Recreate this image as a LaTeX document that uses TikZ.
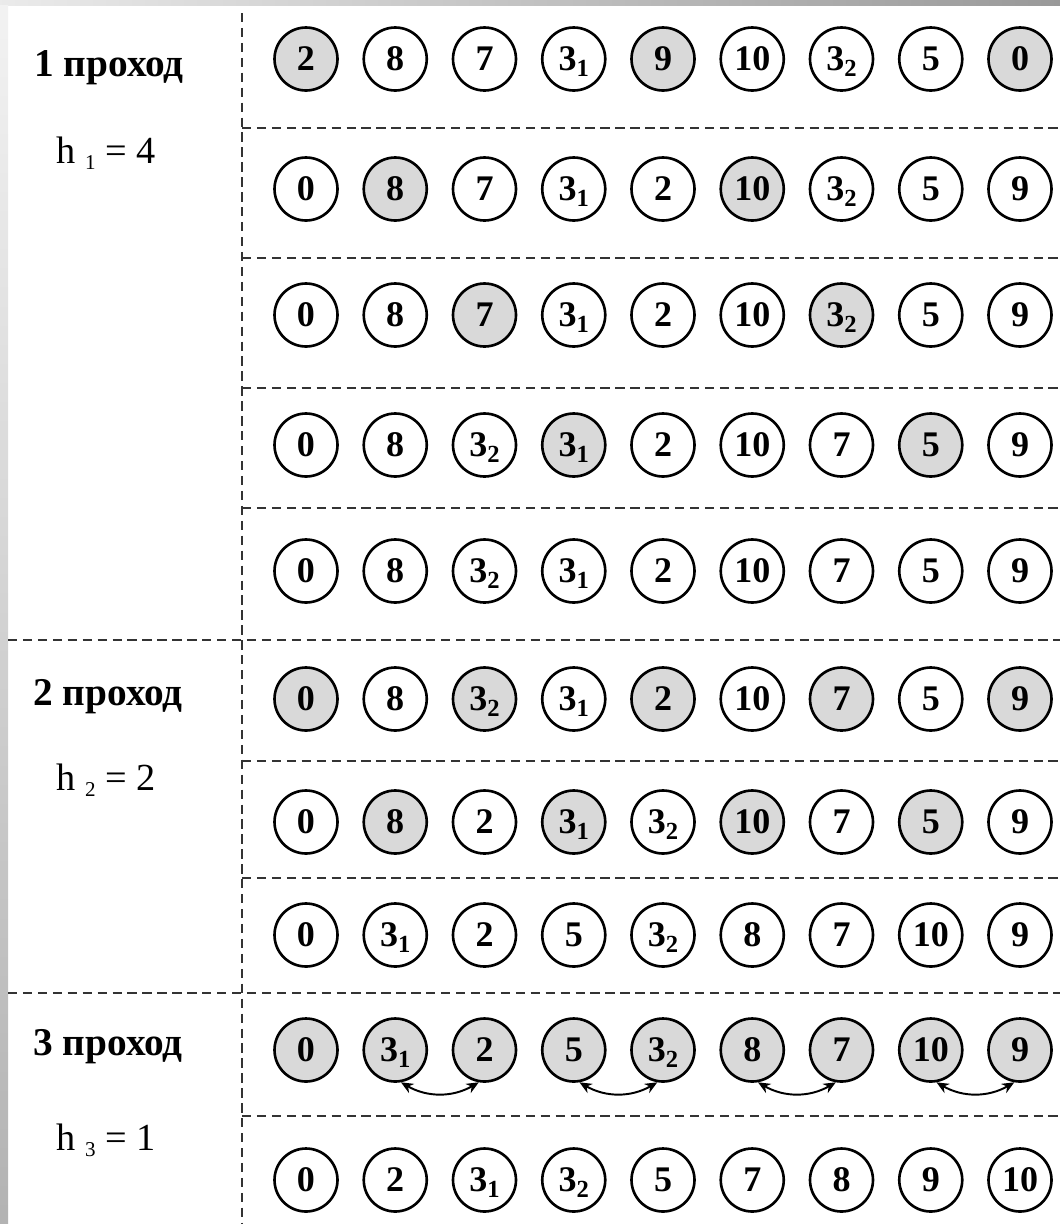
\documentclass[tikz,border=0pt]{standalone}
\usepackage{fontspec}
\setmainfont{Liberation Serif}
\usepackage{tikz}
\usetikzlibrary{arrows.meta}
\colorlet{sel}{black!15}
\newcommand{\lo}[2][14]{\raisebox{-3.5pt}[0pt][0pt]{\fontsize{#1}{#1}\selectfont #2}}

\begin{document}
\begin{tikzpicture}[x=0.02cm, y=-0.02cm,
    cell/.style={draw, circle, line width=1.5pt, minimum size=1.26cm, inner sep=0pt, fill=white, font=\fontsize{20.5}{22}\selectfont\bfseries},
    pass/.style={font=\fontsize{22.4}{24}\selectfont\bfseries},
    hval/.style={font=\fontsize{21.8}{24}\selectfont},
    sep/.style={line width=1.5pt, black!80, dash pattern=on 5.3pt off 3.2pt},
    xchg/.style={{Stealth[length=7pt,width=6pt]}-{Stealth[length=7pt,width=6pt]}, line width=1.1pt},
]
\useasboundingbox (0,0) rectangle (1060,1224);
\shade[left color=black!8, right color=black!40] (0,0) rectangle (1060,5);
\shade[top color=black!5, bottom color=black!30] (0,5) rectangle (8,1224);

\draw[sep] (242,13) -- (242,1224);
\foreach \yy in {128,258,388,508,761,878,1116}
  \draw[sep] (242,\yy) -- (1060,\yy);
\foreach \yy in {640,993}
  \draw[sep] (8,\yy) -- (1060,\yy);

\node[pass] (pass1) at (109,68) {1 проход};
\node[hval] (h1) at (106,150) {h \lo[12]{1} = 4};
\node[pass] (pass2) at (108,697) {2 проход};
\node[hval] (h2) at (106,777) {h \lo[12]{2} = 2};
\node[pass] (pass3) at (108,1047) {3 проход};
\node[hval] (h3) at (106,1137) {h \lo[12]{3} = 1};

\foreach \v/\f [count=\c] in {2/sel, 8/white, 7/white, 3\lo{1}/white, 9/sel, 10/white, 3\lo{2}/white, 5/white, 0/sel}
  \node[cell, fill=\f] (r1-\c) at ({306+89.25*(\c-1)}, 59) {\v};
\foreach \v/\f [count=\c] in {0/white, 8/sel, 7/white, 3\lo{1}/white, 2/white, 10/sel, 3\lo{2}/white, 5/white, 9/white}
  \node[cell, fill=\f] (r2-\c) at ({306+89.25*(\c-1)}, 189) {\v};
\foreach \v/\f [count=\c] in {0/white, 8/white, 7/sel, 3\lo{1}/white, 2/white, 10/white, 3\lo{2}/sel, 5/white, 9/white}
  \node[cell, fill=\f] (r3-\c) at ({306+89.25*(\c-1)}, 315) {\v};
\foreach \v/\f [count=\c] in {0/white, 8/white, 3\lo{2}/white, 3\lo{1}/sel, 2/white, 10/white, 7/white, 5/sel, 9/white}
  \node[cell, fill=\f] (r4-\c) at ({306+89.25*(\c-1)}, 445) {\v};
\foreach \v/\f [count=\c] in {0/white, 8/white, 3\lo{2}/white, 3\lo{1}/white, 2/white, 10/white, 7/white, 5/white, 9/white}
  \node[cell, fill=\f] (r5-\c) at ({306+89.25*(\c-1)}, 571) {\v};
\foreach \v/\f [count=\c] in {0/sel, 8/white, 3\lo{2}/sel, 3\lo{1}/white, 2/sel, 10/white, 7/sel, 5/white, 9/sel}
  \node[cell, fill=\f] (r6-\c) at ({306+89.25*(\c-1)}, 699) {\v};
\foreach \v/\f [count=\c] in {0/white, 8/sel, 2/white, 3\lo{1}/sel, 3\lo{2}/white, 10/sel, 7/white, 5/sel, 9/white}
  \node[cell, fill=\f] (r7-\c) at ({306+89.25*(\c-1)}, 822) {\v};
\foreach \v/\f [count=\c] in {0/white, 3\lo{1}/white, 2/white, 5/white, 3\lo{2}/white, 8/white, 7/white, 10/white, 9/white}
  \node[cell, fill=\f] (r8-\c) at ({306+89.25*(\c-1)}, 935) {\v};
\foreach \v/\f [count=\c] in {0/sel, 3\lo{1}/sel, 2/sel, 5/sel, 3\lo{2}/sel, 8/sel, 7/sel, 10/sel, 9/sel}
  \node[cell, fill=\f] (r9-\c) at ({306+89.25*(\c-1)}, 1050) {\v};
\foreach \v/\f [count=\c] in {0/white, 2/white, 3\lo{1}/white, 3\lo{2}/white, 5/white, 7/white, 8/white, 9/white, 10/white}
  \node[cell, fill=\f] (r10-\c) at ({306+89.25*(\c-1)}, 1180) {\v};

\foreach \i/\j in {2/3, 4/5, 6/7, 8/9}
  \draw[xchg] (r9-\i.-80) to[out=-30, in=-150] (r9-\j.-100);

\end{tikzpicture}
\end{document}
